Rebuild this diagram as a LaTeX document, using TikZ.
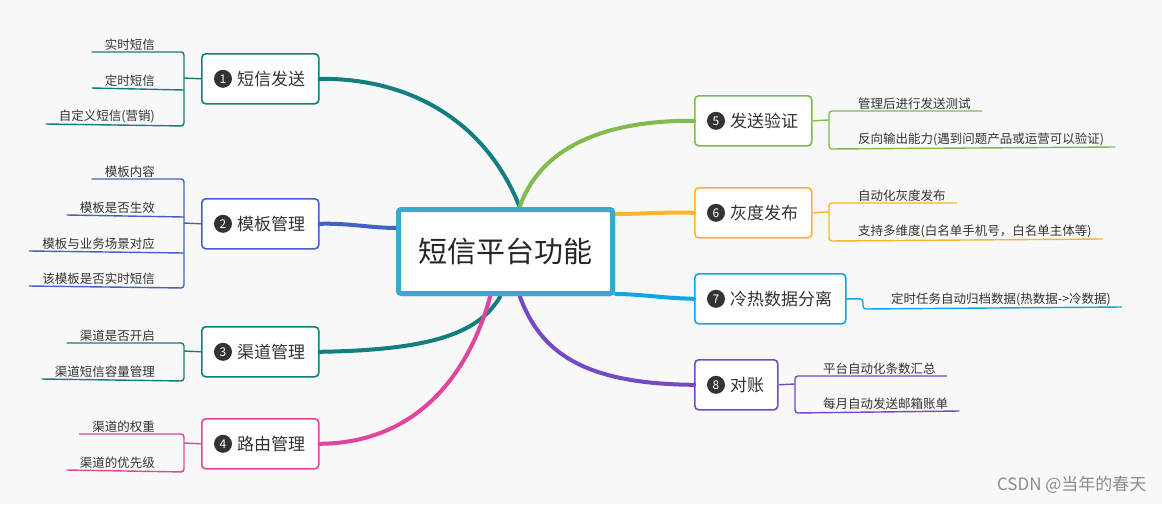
\documentclass[tikz,border=0pt]{standalone}
\usepackage{fontspec}
\setmainfont{Noto Sans CJK SC}
\begin{document}
\begin{tikzpicture}[x=1pt,y=-1pt,
  box/.style={draw,line width=1.6pt,rounded corners=4pt,fill=white,minimum height=50pt,anchor=north west,inner sep=0pt,font=\fontsize{17}{17}\selectfont,text=black!80},
  num/.style={circle,fill=black!80,text=white,inner sep=0pt,minimum size=18pt,font=\fontsize{12}{12}\selectfont},
  kid/.style={font=\fontsize{12.5}{13}\selectfont,text=black!80,inner sep=1pt},
  br/.style={line width=1.4pt,rounded corners=3pt},
  lk/.style={line width=4pt,line cap=round}]
\definecolor{bg}{HTML}{F8F8F8}
\definecolor{cT}{HTML}{127E80}
\definecolor{cB}{HTML}{4360C8}
\definecolor{cP}{HTML}{E0449C}
\definecolor{cG}{HTML}{80BC4C}
\definecolor{cO}{HTML}{FBB52C}
\definecolor{cC}{HTML}{0AA8E8}
\definecolor{cV}{HTML}{7548C4}
\definecolor{cM}{HTML}{3AA9CF}
\fill[bg] (0,0) rectangle (1162,504);
\useasboundingbox (0,0) rectangle (1162,504);
% center
\node[draw=cM,line width=5pt,fill=white,rounded corners=3pt,minimum width=214pt,minimum height=84pt,font=\fontsize{29}{29}\selectfont,text=black!85] (c) at (505.5,251.5) {短信平台功能};
% branches
\node[box,draw=cT,minimum width=117pt] (b1) at (201,53) {};
\node[box,draw=cB,minimum width=117pt] (b2) at (201,198) {};
\node[box,draw=cT,minimum width=117pt] (b3) at (201,326) {};
\node[box,draw=cP,minimum width=117pt] (b4) at (201,418) {};
\node[box,draw=cG,minimum width=117pt] (b5) at (694,95) {};
\node[box,draw=cO,minimum width=117pt] (b6) at (694,187) {};
\node[box,draw=cC,minimum width=151pt] (b7) at (694,273) {};
\node[box,draw=cV,minimum width=83pt] (b8) at (694,359) {};
\foreach \b/\n/\t in {b1/1/短信发送,b2/2/模板管理,b3/3/渠道管理,b4/4/路由管理,b5/5/发送验证,b6/6/灰度发布,b7/7/冷热数据分离,b8/8/对账}{
  \node[num] (n\b) at ([xshift=22pt]\b.west) {\n};
  \node[anchor=west,inner sep=0pt,font=\fontsize{17}{17}\selectfont,text=black!80] (t\b) at ([xshift=36pt]\b.west) {\t};
}
% main links
\begin{scope}[on background layer/.try]
\end{scope}
\draw[lk,cT] (b1.east) .. controls (420,78) and (490,130) .. (520,208);
\draw[lk,cB] (b2.east) .. controls (350,223) and (370,228) .. (397,228);
\draw[lk,cT] (b3.east) .. controls (440,350) and (480,330) .. (500,297);
\draw[lk,cP] (b4.east) .. controls (420,443) and (470,370) .. (490,297);
\draw[lk,cG] (b5.west) .. controls (600,120) and (540,150) .. (520,206);
\draw[lk,cO] (b6.west) .. controls (660,212) and (640,214) .. (616,214);
\draw[lk,cC] (b7.west) .. controls (660,298) and (640,294) .. (616,294);
\draw[lk,cV] (b8.west) .. controls (580,384) and (540,350) .. (520,297);
\node[draw=cM,line width=5pt,fill=white,rounded corners=3pt,minimum width=214pt,minimum height=84pt,font=\fontsize{29}{29}\selectfont,text=black!85] at (505.5,251.5) {短信平台功能};
% left children
\node[kid,anchor=south east] (k11) at (156,52) {实时短信};
\node[kid,anchor=south east] (k12) at (156,88) {定时短信};
\node[kid,anchor=south east] (k13) at (156,124) {自定义短信(营销)};
\draw[br,cT] ([xshift=-12pt]k11.south west) -| (184,126) -- ([xshift=-12pt]k13.south west);
\draw[br,cT] ([xshift=-12pt]k12.south west) -- (184,90);
\draw[br,cT] (184,78) -- (b1.west);
\node[kid,anchor=south east] (k21) at (156,179) {模板内容};
\node[kid,anchor=south east] (k22) at (156,215) {模板是否生效};
\node[kid,anchor=south east] (k23) at (156,251) {模板与业务场景对应};
\node[kid,anchor=south east] (k24) at (156,286) {该模板是否实时短信};
\draw[br,cB] ([xshift=-12pt]k21.south west) -| (184,288) -- ([xshift=-12pt]k24.south west);
\draw[br,cB] ([xshift=-12pt]k22.south west) -- (184,217);
\draw[br,cB] ([xshift=-12pt]k23.south west) -- (184,253);
\draw[br,cB] (184,223) -- (b2.west);
\node[kid,anchor=south east] (k31) at (156,343) {渠道是否开启};
\node[kid,anchor=south east] (k32) at (156,379) {渠道短信容量管理};
\draw[br,cT] ([xshift=-12pt]k31.south west) -| (184,381) -- ([xshift=-12pt]k32.south west);
\draw[br,cT] (184,351) -- (b3.west);
\node[kid,anchor=south east] (k41) at (156,434) {渠道的权重};
\node[kid,anchor=south east] (k42) at (156,470) {渠道的优先级};
\draw[br,cP] ([xshift=-12pt]k41.south west) -| (184,472) -- ([xshift=-12pt]k42.south west);
\draw[br,cP] (184,443) -- (b4.west);
% right children
\node[kid,anchor=south west] (k51) at (857,111) {管理后进行发送测试};
\node[kid,anchor=south west] (k52) at (857,147) {反向输出能力(遇到问题产品或运营可以验证)};
\draw[br,cG] ([xshift=10pt]k51.south east) -| (829,149) -- ([xshift=10pt]k52.south east);
\draw[br,cG] (b5.east) -- (829,120);
\node[kid,anchor=south west] (k61) at (857,203) {自动化灰度发布};
\node[kid,anchor=south west] (k62) at (857,239) {支持多维度(白名单手机号，白名单主体等)};
\draw[br,cO] ([xshift=10pt]k61.south east) -| (829,241) -- ([xshift=10pt]k62.south east);
\draw[br,cO] (b6.east) -- (829,212);
\node[kid,anchor=south west] (k71) at (890,307) {定时任务自动归档数据(热数据->冷数据)};
\draw[br,cC] (b7.east) -| (863,309) -- ([xshift=10pt]k71.south east);
\node[kid,anchor=south west] (k81) at (822,376) {平台自动化条数汇总};
\node[kid,anchor=south west] (k82) at (822,411) {每月自动发送邮箱账单};
\draw[br,cV] ([xshift=10pt]k81.south east) -| (795,413) -- ([xshift=10pt]k82.south east);
\draw[br,cV] (b8.east) -- (795,384);
\node[anchor=south east,font=\fontsize{17}{17}\selectfont,text=black!45] (wm) at (1150,497) {CSDN @当年的春天};
\end{tikzpicture}
\end{document}
